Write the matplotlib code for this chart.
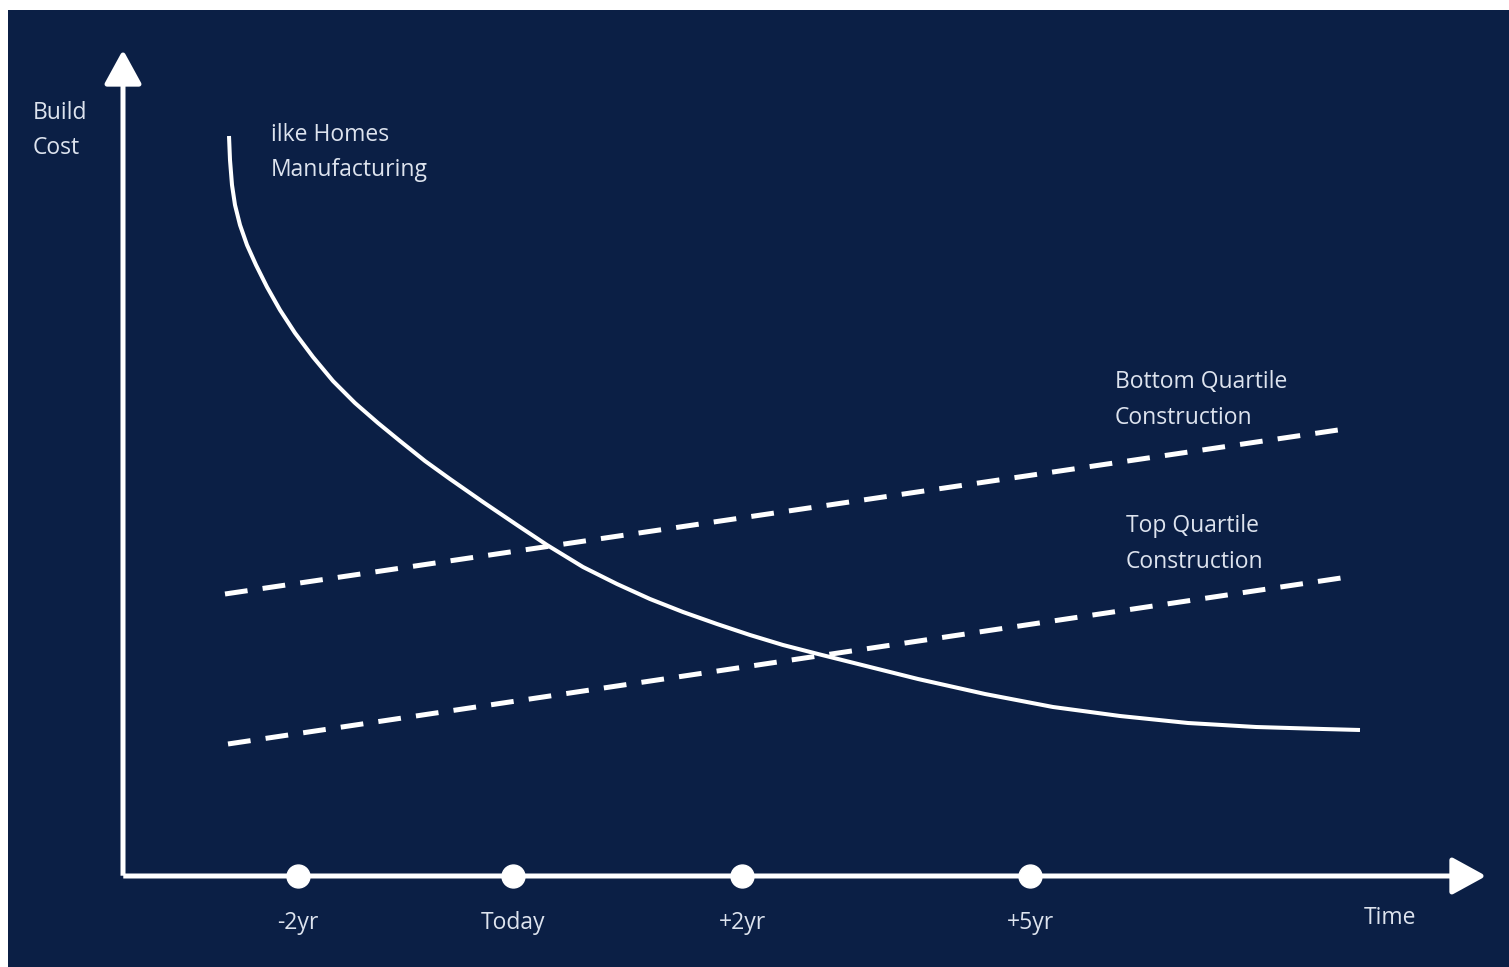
import matplotlib
matplotlib.use("Agg")
import matplotlib.pyplot as plt
from matplotlib.patches import FancyArrowPatch

# ---- data (schematic units: time on x, build cost on y) ----
ilke_x = [1.06, 1.07, 1.09, 1.12, 1.17, 1.24, 1.33, 1.44, 1.57, 1.72, 1.90, 2.10, 2.32, 2.55,
          2.77, 3.02, 3.27, 3.60, 3.94, 4.24, 4.60, 4.94, 5.27, 5.60, 5.94, 6.27, 6.60, 6.95,
          7.27, 7.95, 8.62, 9.30, 9.97, 10.65, 11.33, 12.00, 12.37]
ilke_y = [7.40, 7.16, 6.91, 6.71, 6.51, 6.31, 6.11, 5.89, 5.66, 5.43, 5.19, 4.95, 4.73, 4.53,
          4.35, 4.15, 3.97, 3.74, 3.51, 3.31, 3.09, 2.92, 2.77, 2.64, 2.52, 2.41, 2.31, 2.22,
          2.14, 1.97, 1.82, 1.69, 1.60, 1.53, 1.49, 1.47, 1.46]

bottom_q_x = [1.02, 12.15]
bottom_q_y = [2.82, 4.46]

top_q_x = [1.05, 12.18]
top_q_y = [1.32, 2.98]

tick_x = [1.75, 3.90, 6.19, 9.07]
tick_labels = ["-2yr", "Today", "+2yr", "+5yr"]

y_label = "Build\nCost"
x_label = "Time"
ilke_label = "ilke Homes\nManufacturing"
bottom_label = "Bottom Quartile\nConstruction"
top_label = "Top Quartile\nConstruction"

# ---- style ----
NAVY = "#0b1f45"
TXT = "#dde3ee"
W = 1509
H = 967
FONT = ["Open Sans", "DejaVu Sans"]
FS = 16.5

fig = plt.figure(figsize=(W / 100, H / 100), dpi=100, facecolor="white")
ax = fig.add_axes([8 / W, 0, 1 - 8 / W, 1 - 10 / H])
ax.set_facecolor(NAVY)
ax.set_xlim(-1.15, 13.86)
ax.set_ylim(-0.91, 8.66)
for s in ax.spines.values():
    s.set_visible(False)
ax.set_xticks([])
ax.set_yticks([])

# axes arrows
lw_axis = 3.6
arrow_style = "-|>,head_length=21,head_width=11.5"
ya = FancyArrowPatch((0, -0.025), (0, 8.29), arrowstyle=arrow_style, mutation_scale=1,
                     color="white", lw=lw_axis, capstyle="butt", zorder=3)
xa = FancyArrowPatch((-0.025, 0), (13.66, 0), arrowstyle=arrow_style, mutation_scale=1,
                     color="white", lw=lw_axis, capstyle="butt", zorder=3)
ax.add_patch(ya)
ax.add_patch(xa)

# tick dots and labels
ax.plot(tick_x, [0] * len(tick_x), "o", color="white", markersize=16.5, zorder=4, clip_on=False)
for x, lab in zip(tick_x, tick_labels):
    ax.text(x, -0.47, lab, color=TXT, fontsize=FS, family=FONT, ha="center", va="center")
ax.text(12.67, -0.42, x_label, color=TXT, fontsize=FS, family=FONT, ha="center", va="center")

# series
ax.plot(ilke_x, ilke_y, color="white", lw=2.9, solid_capstyle="butt",
        solid_joinstyle="round", zorder=2)
dash = (0, (22.8 * 0.72 / 3.6, 15.2 * 0.72 / 3.6))
ax.plot(bottom_q_x, bottom_q_y, color="white", lw=3.6, linestyle=dash, dash_capstyle="butt", zorder=2)
ax.plot(top_q_x, top_q_y, color="white", lw=3.6, linestyle=dash, dash_capstyle="butt", zorder=2)

# labels
ls = 1.62
ax.text(-0.90, 7.455, y_label, color=TXT, fontsize=FS, family=FONT, ha="left", va="center", linespacing=ls)
ax.text(1.48, 7.235, ilke_label, color=TXT, fontsize=FS, family=FONT, ha="left", va="center", linespacing=ls)
ax.text(9.92, 4.76, bottom_label, color=TXT, fontsize=FS, family=FONT, ha="left", va="center", linespacing=ls)
ax.text(10.03, 3.32, top_label, color=TXT, fontsize=FS, family=FONT, ha="left", va="center", linespacing=ls)

fig.savefig("out.png", dpi=100, facecolor="white")
